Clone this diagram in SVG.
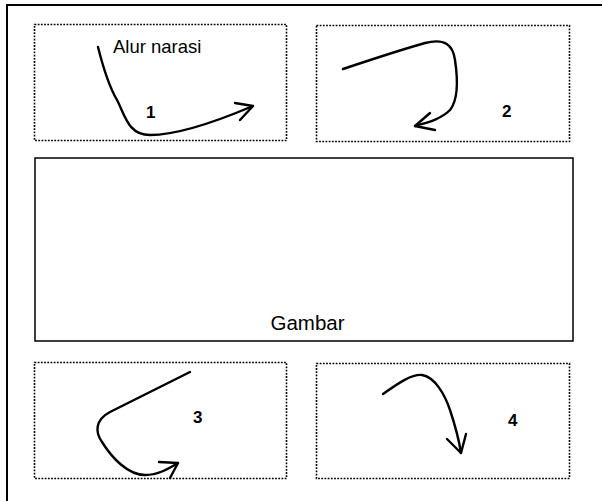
<svg xmlns="http://www.w3.org/2000/svg" width="602" height="501" viewBox="0 0 602 501">
  <style>
    .frame { fill: none; stroke: #000; stroke-width: 2; }
    .panel { fill: none; stroke: #000; stroke-width: 1.6; stroke-dasharray: 1.8 1.4; }
    .picture { fill: none; stroke: #000; stroke-width: 1.5; }
    .flow { fill: none; stroke: #000; stroke-width: 2.4; stroke-linecap: round; stroke-linejoin: round; }
    .label { font-family: "Liberation Sans", Arial, sans-serif; fill: #000; }
    .num { font-family: "Liberation Sans", Arial, sans-serif; font-size: 17px; font-weight: bold; fill: #000; }
  </style>
  <rect width="602" height="501" fill="#fff"/>

  <!-- page frame: top and left edges -->
  <path class="frame" d="M7,501 V5 H602"/>

  <g id="panel-1">
    <rect class="panel" x="34.5" y="24.5" width="252" height="116"/>
    <text class="label" x="113" y="53" font-size="18.5">Alur narasi</text>
    <text class="num" x="146" y="118">1</text>
  </g>

  <g id="panel-2">
    <rect class="panel" x="316.5" y="25.5" width="253" height="116"/>
    <text class="num" x="502" y="117">2</text>
  </g>

  <g id="picture">
    <rect class="picture" x="35" y="158" width="538" height="183"/>
    <text class="label" x="307.5" y="330" font-size="20.5" text-anchor="middle">Gambar</text>
  </g>

  <g id="panel-3">
    <rect class="panel" x="34.5" y="362.5" width="252" height="116"/>
    <text class="num" x="193" y="423">3</text>
  </g>

  <g id="panel-4">
    <rect class="panel" x="316.5" y="363.5" width="253" height="115"/>
    <text class="num" x="508" y="426">4</text>
  </g>

  <!-- hand-drawn reading-order arrows -->
  <g id="connectors">
    <path class="flow" d="M98,47 C105,75 110,88 117,100 C125,115 128,135 150,135 C180,135 220,120 253,106"/>
    <path class="flow" d="M235,103 L253,106 L240,120"/>

    <path class="flow" d="M343,69 C370,60 400,50 425,43 C445,38 453,45 455,60 C458,80 458,100 450,110 C440,120 425,123 415,126"/>
    <path class="flow" d="M430,113 L415,126 L435,130"/>

    <path class="flow" d="M190,372 C170,382 140,397 110,412 C95,420 95,432 102,442 C112,458 128,475 145,475 C158,475 168,469 178,463"/>
    <path class="flow" d="M159,462 L178,463 L170,478"/>

    <path class="flow" d="M383,394 C400,382 412,374 422,375 C435,377 445,395 450,410 C456,428 459,440 461,453"/>
    <path class="flow" d="M447,439 L461,453 L466,434"/>
  </g>
</svg>
